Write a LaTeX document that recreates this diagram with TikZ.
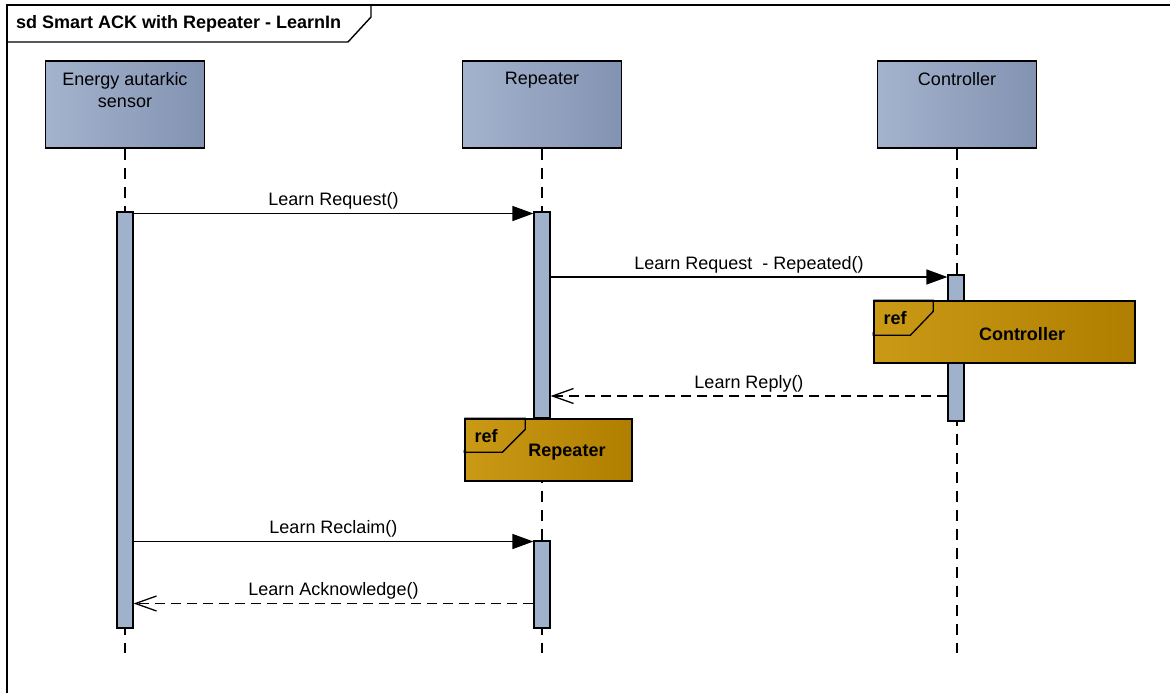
\documentclass[tikz,border=0pt]{standalone}
\usepackage{fontspec}
\setmainfont{Liberation Sans}
\usetikzlibrary{arrows.meta,calc}

\definecolor{headL}{RGB}{164,179,205}
\definecolor{headM}{RGB}{160,175,202}
\definecolor{headR}{RGB}{130,147,178}
\definecolor{barFill}{RGB}{160,177,204}
\definecolor{refL}{RGB}{202,154,22}
\definecolor{refM}{RGB}{198,150,18}
\definecolor{refR}{RGB}{176,126,0}

\begin{document}
\begin{tikzpicture}[x=1pt,y=-1pt,
  every node/.style={font=\fontsize{18}{22}\selectfont, inner sep=0pt},
  head/.style={draw=black, line width=1.4pt, minimum width=159pt, minimum height=87pt,
    left color=headL, middle color=headM, right color=headR},
  headlbl/.style={anchor=north, align=center},
  life/.style={line width=1.2pt, dash pattern=on 11pt off 8pt},
  actbar/.style={draw=black, line width=1.2pt, fill=barFill, minimum width=16pt},
  refbox/.style={draw=black, line width=1.4pt, minimum height=62pt,
    left color=refL, middle color=refM, right color=refR},
  reftag/.style={draw=black, line width=1.3pt},
  bold/.style={font=\fontsize{18}{22}\selectfont\bfseries},
  msg/.style={line width=1.3pt, -{Triangle[length=21pt,width=15pt]}},
  reply/.style={line width=1.3pt, dash pattern=on 10pt off 6pt,
    -{Straight Barb[length=21pt,width=15pt,line width=1.3pt]}},
  msglbl/.style={anchor=base, yshift=8pt}
]
\useasboundingbox (0,0) rectangle (1170,693);
\clip (0,0) rectangle (1170,693);

% diagram frame and its name tag
\draw[line width=1.6pt] (7,700) -- (7,5) -- (1180,5);
\draw[line width=1.4pt] (7,5) -- (371,5) -- (371,17) -- (348,42) -- (7,42);
\node[bold, anchor=base west] (title) at (16,28.5) {sd Smart ACK with Repeater - LearnIn};

% lifeline heads
\node[head] (sensor) at (125,104.5) {};
\node[head] (repeater) at (542,104.5) {};
\node[head] (controller) at (957,104.5) {};
\node[headlbl] (sensorlbl) at (125,72) {Energy autarkic\\sensor};
\node[headlbl] (repeaterlbl) at (542,72) {Repeater};
\node[headlbl] (controllerlbl) at (957,72) {Controller};

% lifelines
\coordinate (lifeend) at (0,653);
\draw[life] (sensor.south) -- (sensor.south |- lifeend);
\draw[life] (repeater.south) -- (repeater.south |- lifeend);
\draw[life] (controller.south) -- (controller.south |- lifeend);

% activation bars
\node[actbar, minimum height=416pt] (sbar) at (125,420) {};
\node[actbar, minimum height=206pt] (rbarA) at (542,315) {};
\node[actbar, minimum height=87pt] (rbarB) at (542,584.5) {};
\node[actbar, minimum height=146pt] (cbar) at (956,348) {};

% interaction references
\node[refbox, minimum width=261pt] (refC) at (1004.5,332) {};
\draw[reftag] (refC.north west) -- ++(60,0) -- ++(0,11) -- ++(-23,24) -| (refC.west);
\node[bold, anchor=base west] (refCtag) at ($(refC.north west)+(10,24)$) {ref};
\node[bold, anchor=base] (refCname) at (1022,340) {Controller};

\node[refbox, minimum width=167pt] (refR) at (548.5,450) {};
\draw[reftag] (refR.north west) -- ++(61,0) -- ++(0,11) -- ++(-23,23) -| (refR.west);
\node[bold, anchor=base west] (refRtag) at ($(refR.north west)+(10,24)$) {ref};
\node[bold, anchor=base] (refRname) at (567,456) {Repeater};

% messages
\coordinate (m1) at (0,213.5);
\coordinate (m2) at (0,277);
\coordinate (m3) at (0,396);
\coordinate (m4) at (0,541.5);
\coordinate (m5) at (0,603.5);

\draw[msg] (sbar.east |- m1) -- (rbarA.west |- m1)
  node[msglbl, midway] {Learn Request()};
\draw[msg] (rbarA.east |- m2) -- (cbar.west |- m2)
  node[msglbl, midway] {Learn Request\ \ - Repeated()};
\draw[reply] (cbar.west |- m3) -- (rbarA.east |- m3)
  node[msglbl, midway] {Learn Reply()};
\draw[msg] (sbar.east |- m4) -- (rbarB.west |- m4)
  node[msglbl, midway] {Learn Reclaim()};
\draw[reply] (rbarB.west |- m5) -- (sbar.east |- m5)
  node[msglbl, midway] {Learn Acknowledge()};
\end{tikzpicture}
\end{document}
